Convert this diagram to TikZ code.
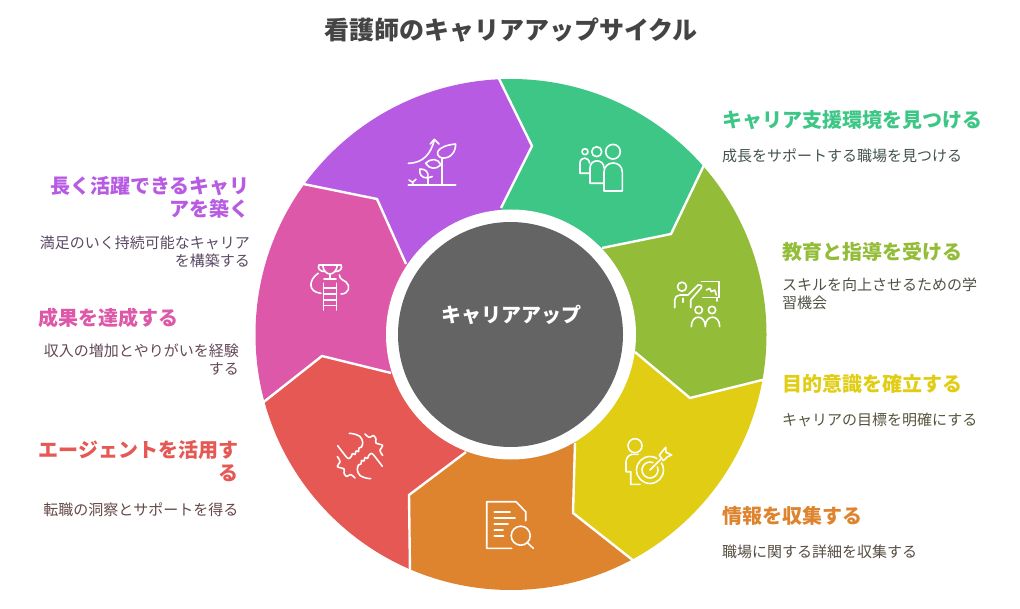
\documentclass[tikz,border=0pt]{standalone}
\usepackage{fontspec}
\setmainfont{Noto Sans CJK JP}
\usetikzlibrary{calc,positioning}

\definecolor{supportc}{HTML}{3DC686}
\definecolor{teachc}{HTML}{93BC38}
\definecolor{goalc}{HTML}{E0CD14}
\definecolor{infoc}{HTML}{DE842F}
\definecolor{agentc}{HTML}{E55853}
\definecolor{resultc}{HTML}{DD58A8}
\definecolor{careerc}{HTML}{B75BE3}
\definecolor{hubc}{HTML}{646464}
\definecolor{inkc}{HTML}{444444}

\tikzset{
  heading/.style={inner sep=0pt, font=\bfseries\fontsize{20}{23.5}\selectfont},
  blurb/.style={inner sep=0pt, font=\fontsize{15}{18}\selectfont},
  iconline/.style={draw=white, line width=1.6pt, line cap=round, line join=round},
  sepline/.style={draw=white, line width=2.4pt, line join=miter},
}

\begin{document}
\begin{tikzpicture}[x=1pt, y=-1pt]
  \useasboundingbox (0,0) rectangle (1020,609);

  \coordinate (hubc) at (511,334.5);
  % outer end, notch, inner end of each border
  \coordinate (o1) at (498,79);   \coordinate (n1) at (532,146);  \coordinate (i1) at (501,208);
  \coordinate (o2) at (702,167);  \coordinate (n2) at (671,234);  \coordinate (i2) at (602,248);
  \coordinate (o3) at (762,379);  \coordinate (n3) at (690,398);  \coordinate (i3) at (635,352);
  \coordinate (o4) at (633,559);  \coordinate (n4) at (573,513);  \coordinate (i4) at (575,443);
  \coordinate (o5) at (411,570);  \coordinate (n5) at (409,495);  \coordinate (i5) at (466,452);
  \coordinate (o6) at (264,403);  \coordinate (n6) at (322,356);  \coordinate (i6) at (391,373);
  \coordinate (o7) at (303,185);  \coordinate (n7) at (377,199);  \coordinate (i7) at (406,264);

  \foreach \a/\b/\col in {1/2/supportc,2/3/teachc,3/4/goalc,4/5/infoc,5/6/agentc,6/7/resultc,7/1/careerc} {
    \begin{scope}
      \clip (hubc) -- (i\a) -- (n\a) -- (o\a) -- ($(hubc)!1.3!(o\a)$) -- ($(hubc)!1.3!(o\b)$) -- (o\b) -- (n\b) -- (i\b) -- cycle;
      \fill[\col] (hubc) circle[radius=255.5];
    \end{scope}
  }
  \foreach \a in {1,...,7}
    \draw[sepline] (i\a) -- (n\a) -- ($(hubc)!1.01!(o\a)$);

  \fill[white] (hubc) circle[radius=125];
  \node[circle, fill=hubc, minimum size=225pt, inner sep=0pt] (hub) at (510.5,334.5) {};
  \node[text=white, inner sep=0pt, font=\bfseries\fontsize{20}{24}\selectfont] (hubText) at (511,315) {キャリアアップ};

  \node[heading, text=inkc, font=\bfseries\fontsize{25}{30}\selectfont] (title) at (511,30) {看護師のキャリアアップサイクル};

  % right side
  \node[heading, text=supportc, anchor=west] (supportHead) at (722,120) {キャリア支援環境を見つける};
  \node[blurb, text=supportc!12!inkc, below=29pt of supportHead.west, anchor=north west] (supportText) {成長をサポートする職場を見つける};
  \node[heading, text=teachc, anchor=west] (teachHead) at (782,252) {教育と指導を受ける};
  \node[blurb, text=teachc!12!inkc, below=26pt of teachHead.west, anchor=north west, align=left] (teachText) {スキルを向上させるための学\\習機会};
  \node[heading, text=goalc, anchor=west] (goalHead) at (782,384) {目的意識を確立する};
  \node[blurb, text=goalc!12!inkc, below=29pt of goalHead.west, anchor=north west] (goalText) {キャリアの目標を明確にする};
  \node[heading, text=infoc, anchor=west] (infoHead) at (722,516) {情報を収集する};
  \node[blurb, text=infoc!12!inkc, below=29pt of infoHead.west, anchor=north west] (infoText) {職場に関する詳細を収集する};

  % left side
  \node[heading, text=careerc, anchor=north east, align=right] (careerHead) at (250,176) {長く活躍できるキャリ\\アを築く};
  \node[blurb, text=careerc!20!inkc, below=17pt of careerHead.south east, anchor=north east, align=right] (careerText) {満足のいく持続可能なキャリア\\を構築する};
  \node[heading, text=resultc, anchor=west] (resultHead) at (38,318) {成果を達成する};
  \node[blurb, text=resultc!20!inkc, anchor=north east, align=right] (resultText) at (239,343.5) {収入の増加とやりがいを経験\\する};
  \node[heading, text=agentc, anchor=north east, align=right] (agentHead) at (238.5,440) {エージェントを活用す\\る};
  \node[blurb, text=agentc!20!inkc, below=20pt of agentHead.south east, anchor=north east] (agentText) {転職の洞察とサポートを得る};

  % sprouts
  \draw[iconline] (408.3,185) -- (455.7,185);
  \draw[iconline] (441.7,185) -- (441.7,158);
  \draw[iconline] (441.7,158) .. controls (434,155) and (436,146) .. (455.5,144) .. controls (456,150) and (452,159) .. (441.7,158);
  \draw[iconline] (440.7,165) .. controls (438,158) and (431,158) .. (425.7,163.3) .. controls (429,169) and (436,170) .. (440.7,165);
  \draw[iconline] (427.7,185) -- (427.7,178);
  \draw[iconline] (427.7,178) .. controls (429,172) and (426,169) .. (420,169) .. controls (419,174) and (421,178) .. (427.7,178);
  \draw[iconline] (427.7,178) -- (432.3,176.5);
  \draw[iconline] (409,180) -- (412.7,182.3) -- (416,179.3) (412.7,182.3) -- (412.7,185);
  \draw[iconline] (408.3,163.3) .. controls (424,163) and (431,153) .. (434.3,140);
  \draw[iconline] (430.3,144) -- (434.3,139.3) -- (439,144);

  % three people
  \draw[iconline] (585,151.7) circle[radius=3];
  \draw[iconline] (596.7,151.7) circle[radius=5];
  \draw[iconline] (613,151.7) circle[radius=7.3];
  \draw[iconline] (589,173.3) -- (580,173.3) -- (580,163) .. controls (580,156.5) and (589,156.5) .. (589.5,163);
  \draw[iconline] (604,183.3) -- (590,183.3) -- (590,168) .. controls (590,158.5) and (604,158.5) .. (604,168);
  \draw[iconline] (604,191) -- (622.3,191) -- (622.3,172) .. controls (622.3,160) and (604,160) .. (604,172) -- cycle;

  % teacher at a board
  \draw[iconline] (682,286.7) circle[radius=4.5];
  \draw[iconline] (674.7,307.7) -- (674.7,300) .. controls (674.7,297) and (677,295) .. (680,295) -- (688,295) -- (698,285) .. controls (700,283.5) and (703,286) .. (701,288) -- (690.7,300) -- (690.7,307.7);
  \draw[iconline] (683,298.3) -- (683,302.3);
  \draw[iconline] (701.3,281.7) -- (718.7,281.7) -- (718.7,297.7) -- (703,297.7);
  \draw[iconline] (717,297.7) -- (717,301);
  \draw[iconline] (706.3,290) -- (709.7,288.3) -- (711.3,291.7) -- (714.7,290) -- (716.3,295);
  \draw[iconline] (698.7,310) circle[radius=3.7];
  \draw[iconline] (712,310) circle[radius=3.7];
  \draw[iconline] (691.3,326.7) .. controls (691.3,314) and (705.3,314) .. (705.3,326.7) .. controls (705.3,314) and (719.7,314) .. (719.7,326.7);

  % person with target
  \draw[iconline] (635,445.7) circle[radius=7];
  \draw[iconline] (638,454.3) -- (632,454.3) .. controls (628,455) and (626,459) .. (626,462) -- (626,471.7) -- (630.7,471.7) -- (630.7,484.3) -- (640,484.3);
  \draw[iconline] (650,470) circle[radius=13.5];
  \draw[iconline] (650,470) circle[radius=8];
  \draw[goalc, line width=5pt] (650,470) -- (662,458);
  \draw[iconline] (650,470) -- (661,459);
  \draw[iconline] (659.3,455) -- (665.7,447.3) -- (666,452.3) -- (671.7,455) -- (667.7,456.7) -- (663.3,460.7) -- cycle;

  % sheet with lens
  \draw[iconline] (525.7,520.7) -- (525.7,511.7) -- (516,501.7) -- (486.7,501.7) -- (486.7,548.3) -- (511.7,548.3);
  \draw[iconline] (494.3,511.7) -- (510,511.7);
  \draw[iconline] (494.3,517.7) -- (515,517.7);
  \draw[iconline] (494.3,523.7) -- (508,523.7);
  \draw[iconline] (494.3,530) -- (503,530);
  \draw[iconline] (494.3,536) -- (503.5,536);
  \draw[iconline] (520.7,535.7) circle[radius=9.5];
  \draw[iconline] (527.3,542.7) -- (533.3,548.3);

  % two hands
  \foreach \turn in {0,180} {
    \begin{scope}[rotate around={\turn:(360,456)}]
      \draw[iconline] plot[smooth, tension=0.6] coordinates {(337.7,445.7) (346,456.5) (349,458.5) (351.5,456) (352.5,453.5) (355,454.5) (356,451) (358.5,451.5) (359,448) (361.5,447) (362.7,442) (360,436.5) (354,434) (349.3,433.3)};
      \draw[iconline] plot[smooth, tension=0.7] coordinates {(365,434) (369.3,437.5) (373.3,435.5) (376,439) (376,443) (382.7,445.5) (380,450) (382.7,455.5)};
    \end{scope}
  }

  % trophy on a ladder
  \draw[iconline] (319,265) -- (341,265);
  \draw[iconline] (322.7,265) .. controls (323,271) and (327,274) .. (330,274) .. controls (333,274) and (337,271) .. (337.3,265);
  \draw[iconline] (319,265) .. controls (317,268) and (320,272) .. (325,271.5);
  \draw[iconline] (341,265) .. controls (343,268) and (340,272) .. (335,271.5);
  \draw[iconline] (330,274) -- (330,279.3) (324,279.3) -- (336,279.3);
  \draw[iconline] (323.5,283.3) -- (323.5,310) (336.5,283.3) -- (336.5,310);
  \foreach \y in {288.3,294,300,305.7}
    \draw[iconline] (323.5,\y) -- (336.5,\y);
  \draw[iconline] (318.3,273.3) .. controls (309,279) and (307,292) .. (321,293.3);
  \draw[iconline] (339.3,275) .. controls (340,280) and (344,280) .. (346,282) .. controls (351,286) and (349,294) .. (341,294);
\end{tikzpicture}
\end{document}
